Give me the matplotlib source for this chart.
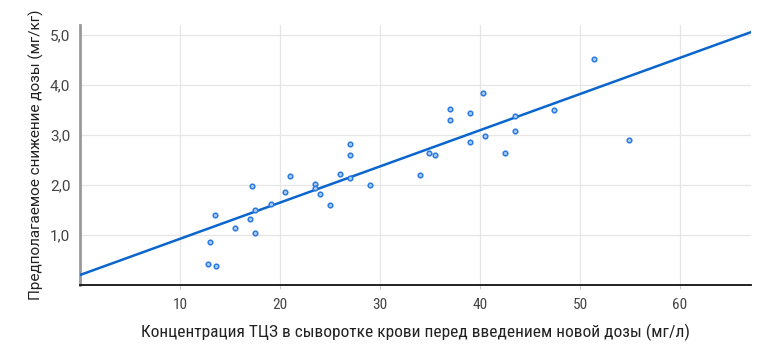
import matplotlib
matplotlib.use("Agg")
import matplotlib.pyplot as plt
from matplotlib import font_manager
import numpy as np

# serum concentration (mg/l) vs predicted dose reduction (mg/kg)
conc = [12.8, 13.6, 13.0, 13.5, 15.5, 17.0, 17.2, 17.5, 17.5, 19.1,
        20.5, 21.0, 23.5, 23.5, 24.0, 25.0, 26.0, 27.0, 27.0, 27.0,
        29.0, 34.0, 34.9, 35.5, 37.0, 37.0, 39.0, 39.0, 40.3, 40.5,
        42.5, 43.5, 43.5, 47.4, 51.4, 54.9]
reduction = [0.43, 0.39, 0.87, 1.41, 1.15, 1.33, 1.99, 1.51, 1.05, 1.63,
             1.87, 2.19, 2.03, 1.95, 1.83, 1.61, 2.23, 2.83, 2.61, 2.15,
             2.01, 2.21, 2.65, 2.61, 3.53, 3.31, 3.45, 2.87, 3.85, 2.99,
             2.65, 3.39, 3.09, 3.51, 4.53, 2.91]
fit_intercept = 0.2
fit_slope = 0.0724

x_ticks = [10, 20, 30, 40, 50, 60]
y_ticks = [1.0, 2.0, 3.0, 4.0, 5.0]
x_label = "Концентрация ТЦЗ в сыворотке крови перед введением новой дозы (мг/л)"
y_label = "Предполагаемое снижение дозы (мг/кг)"

names = {f.name for f in font_manager.fontManager.ttflist}
narrow = None
for cand in ["Roboto Condensed", "Liberation Sans Narrow", "DejaVu Sans Condensed",
             "Open Sans Condensed"]:
    if cand in names:
        narrow = cand
        break
plt.rcParams["font.family"] = ["Roboto", "DejaVu Sans"]
if narrow:
    nfam = [narrow, "DejaVu Sans"]
    xl_size = 12.5
else:
    nfam = ["Roboto", "DejaVu Sans"]
    xl_size = 11

fig = plt.figure(figsize=(7.72, 3.61), dpi=100)
ax = fig.add_axes([0.1036, 0.2105, 0.8692, 0.7202])

xs = np.array([0, 67.1])
ax.plot(xs, fit_intercept + fit_slope * xs, color="#0a66cc", lw=1.8, zorder=3)
ax.scatter(conc, reduction, s=11, facecolor="#a9cdf5", edgecolor="#2a7ae0",
           linewidth=1.1, zorder=4)

ax.set_xlim(0, 67.1)
ax.set_ylim(0, 5.2)
ax.set_xticks(x_ticks)
ax.set_yticks(y_ticks)
ax.set_xticklabels([str(t) for t in x_ticks], family=nfam,
                   fontsize=11, color="#444444")
ax.set_yticklabels([f"{t:.1f}".replace(".", ",") for t in y_ticks],
                   fontsize=11, color="#444444")
ax.tick_params(axis="x", length=3, color="#cccccc", pad=6)
ax.tick_params(axis="y", length=0, pad=7)

ax.grid(True, color="#e6e6e6", lw=0.9)
ax.set_axisbelow(True)
for side in ["top", "right"]:
    ax.spines[side].set_visible(False)
ax.spines["left"].set_color("#999999")
ax.spines["left"].set_linewidth(2)
ax.spines["bottom"].set_color("#111111")
ax.spines["bottom"].set_linewidth(1.3)

ax.set_xlabel(x_label, family=nfam, fontsize=xl_size,
              color="#222222", labelpad=9)
ax.set_ylabel(y_label, fontsize=11, color="#222222", labelpad=4)

fig.savefig("out.png", dpi=100)
